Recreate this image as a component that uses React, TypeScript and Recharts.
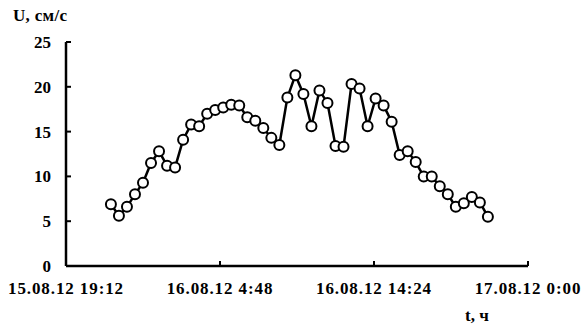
import { LineChart, Line, XAxis, YAxis } from 'recharts';

// time in hours counted from 15.08.12 00:00, half-hour steps
const hours = [
  22, 22.5, 23, 23.5, 24, 24.5, 25, 25.5, 26, 26.5, 27, 27.5,
  28, 28.5, 29, 29.5, 30, 30.5, 31, 31.5, 32, 32.5, 33, 33.5,
  34, 34.5, 35, 35.5, 36, 36.5, 37, 37.5, 38, 38.5, 39, 39.5,
  40, 40.5, 41, 41.5, 42, 42.5, 43, 43.5, 44, 44.5, 45, 45.5,
];

// current speed U, cm/s
const speed = [
  6.9, 5.6, 6.6, 8.0, 9.3, 11.5, 12.8, 11.2, 11.0, 14.1, 15.8, 15.6,
  17.0, 17.4, 17.7, 18.0, 17.9, 16.6, 16.2, 15.4, 14.3, 13.5, 18.8, 21.3,
  19.2, 15.6, 19.6, 18.2, 13.4, 13.3, 20.3, 19.8, 15.6, 18.7, 17.9, 16.1,
  12.4, 12.8, 11.6, 10.0, 10.0, 8.9, 8.0, 6.6, 7.0, 7.7, 7.1, 5.5,
];

const xTicks = [19.2, 28.8, 38.4, 48];
const yTicks = [0, 5, 10, 15, 20, 25];

const data = hours.map((t, i) => ({ t, u: speed[i] }));

const FONT = '"Liberation Serif", "Times New Roman", serif';

function fmtTime(h: number) {
  const d = Math.floor(h / 24 + 1e-9);
  const rem = h - d * 24;
  const hh = Math.floor(rem + 1e-9);
  const mm = Math.round((rem - hh) * 60);
  return `${15 + d}.08.12 ${hh}:${String(mm).padStart(2, '0')}`;
}

const XTick = (props: any) => {
  const { x, y, payload } = props;
  return (
    <g>
      <line x1={x} x2={x} y1={y} y2={y - 5} stroke="#000" strokeWidth={2} />
      <text
        x={x}
        y={y + 28}
        textAnchor="middle"
        fontFamily={FONT}
        fontWeight="bold"
        fontSize={17}
        letterSpacing={0.9}
        fill="#000"
      >
        {fmtTime(payload.value)}
      </text>
    </g>
  );
};

const YTick = (props: any) => {
  const { x, y, payload } = props;
  return (
    <g>
      <line x1={x} x2={x + 5} y1={y} y2={y} stroke="#000" strokeWidth={2} />
      <text
        x={x - 15}
        y={y}
        dy="0.35em"
        textAnchor="end"
        fontFamily={FONT}
        fontWeight="bold"
        fontSize={17}
        fill="#000"
      >
        {payload.value}
      </text>
    </g>
  );
};

export default function App() {
  return (
    <div style={{ position: 'absolute', left: 0, top: 0, width: 582, height: 326, background: '#fff' }}>
      <LineChart
        width={582}
        height={326}
        data={data}
        margin={{ top: 42, right: 54, left: 0, bottom: 0 }}
      >
        <XAxis
          dataKey="t"
          type="number"
          domain={[19.2, 48]}
          ticks={xTicks}
          interval={0}
          height={60}
          tickSize={0}
          tickMargin={0}
          tick={<XTick />}
          axisLine={{ stroke: '#000', strokeWidth: 2.5 }}
          tickLine={false}
        />
        <YAxis
          type="number"
          domain={[0, 25]}
          ticks={yTicks}
          interval={0}
          width={66}
          tickSize={0}
          tickMargin={0}
          tick={<YTick />}
          axisLine={{ stroke: '#000', strokeWidth: 2.5 }}
          tickLine={false}
        />
        <Line
          type="linear"
          dataKey="u"
          stroke="#000"
          strokeWidth={2.5}
          dot={{ r: 5, fill: '#fff', stroke: '#000', strokeWidth: 2 }}
          activeDot={false}
          isAnimationActive={false}
        />
      </LineChart>
      {/* axis titles */}
      <svg
        width={582}
        height={326}
        style={{ position: 'absolute', left: 0, top: 0, pointerEvents: 'none' }}
      >
        <text x={13} y={21} fontFamily={FONT} fontWeight="bold" fontSize={17} letterSpacing={0.3} fill="#000">
          U, см/с
        </text>
        <text x={465} y={321} fontFamily={FONT} fontWeight="bold" fontSize={17} fill="#000">
          t, ч
        </text>
      </svg>
    </div>
  );
}
